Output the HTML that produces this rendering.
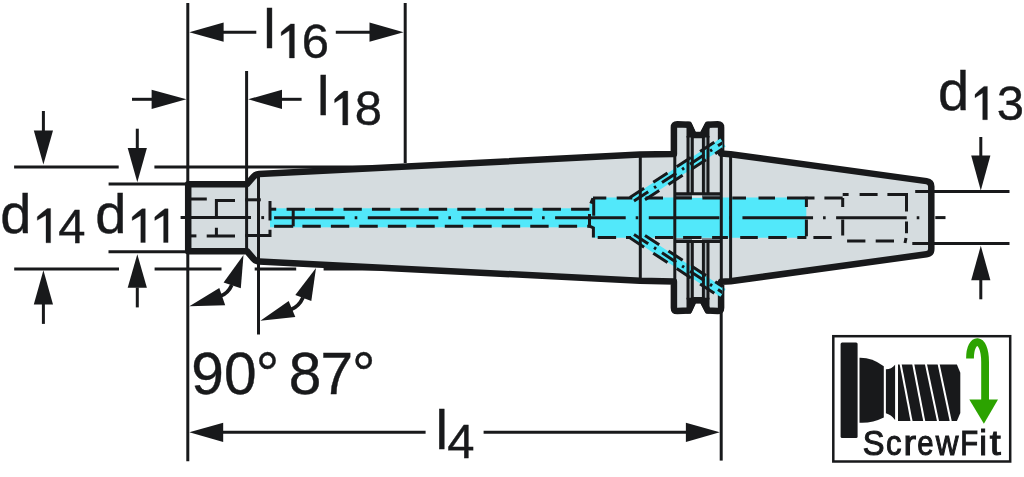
<!DOCTYPE html>
<html><head><meta charset="utf-8"><style>
html,body{margin:0;padding:0;background:#fff;}
body{width:1024px;height:477px;overflow:hidden;font-family:"Liberation Sans",sans-serif;}
svg{display:block;will-change:transform;}
</style></head><body>
<svg width="1024" height="477" viewBox="0 0 1024 477" stroke-linecap="butt">
<path d="M188.2,217.7 L188.2,184.2 L247,184.2 L253.6,176.6 Q255.6,174.2 259,174.0 L640,154.60 L673.9,153.9 L673.9,127.6 Q673.9,124.3 677.2,124.3 L688.97,124.8 L693.67,135.1 L702.43,135.1 L707.73,124.8 L717.8,124.3 Q721.1,124.3 721.1,127.6 L721.1,153.6 L730.5,154.2 L926.5,181.11 Q931.3,181.71 931.3,186.5 L931.3,217.7 L931.3,248.90 Q931.3,253.69 926.5,254.29 L730.5,281.20 L721.1,281.80 L721.1,307.80 Q721.1,311.10 717.8,311.10 L707.73,310.60 L702.43,300.30 L693.67,300.30 L688.97,310.60 L677.2,311.10 Q673.9,311.10 673.9,307.80 L673.9,281.50 L640,280.80 L259,261.40 Q255.6,261.20 253.6,258.80 L247,251.20 L188.2,251.20 Z" fill="#d5dcdf" stroke="none"/>
<rect x="270" y="208.3" width="320" height="19" fill="#52e8fa"/>
<path d="M592.5,197.6 L806.3,197.6 L806.3,237.7 L592.5,237.7 L592.5,228 L589.5,226 L589.5,205 Z" fill="#52e8fa"/>
<rect x="676" y="194.6" width="44" height="2.6" fill="#6f7a82"/>
<rect x="676" y="238.2" width="44" height="2.6" fill="#6f7a82"/>
<rect x="692" y="194.6" width="10" height="3.2" fill="#e2e8ea"/>
<rect x="692" y="237.6" width="10" height="3.2" fill="#e2e8ea"/>
<rect x="689.3" y="137" width="2.0" height="56.8" fill="#a9b2b6"/>
<rect x="689.3" y="241.6" width="2.0" height="56.8" fill="#a9b2b6"/>
<rect x="704.7" y="137" width="2.199999999999932" height="56.8" fill="#a9b2b6"/>
<rect x="704.7" y="241.6" width="2.199999999999932" height="56.8" fill="#a9b2b6"/>
<line x1="634.0" y1="201.00" x2="723.0" y2="142.51" stroke="#52e8fa" stroke-width="9.5"/>
<line x1="634.0" y1="234.40" x2="723.0" y2="292.89" stroke="#52e8fa" stroke-width="9.5"/>
<g stroke="#18191b" fill="none" stroke-width="3.0">
<line x1="629.89" y1="197.60" x2="723.00" y2="136.41" stroke-dasharray="17 11"/>
<line x1="640.00" y1="203.16" x2="723.00" y2="148.62" stroke-dasharray="17 11" stroke-dashoffset="-6"/>
<line x1="634.00" y1="201.00" x2="723.00" y2="142.51" stroke-dasharray="17 7 2.5 7"/>
<line x1="629.89" y1="237.80" x2="723.00" y2="298.99" stroke-dasharray="17 11"/>
<line x1="640.00" y1="232.24" x2="723.00" y2="286.78" stroke-dasharray="17 11" stroke-dashoffset="-6"/>
<line x1="634.00" y1="234.40" x2="723.00" y2="292.89" stroke-dasharray="17 7 2.5 7"/>
</g>
<polygon points="686.50,121.80 690.90,121.80 695.60,132.10 700.60,132.10 705.90,121.80 709.50,121.80 709.50,137.60 686.50,137.60" fill="#18191b" stroke="none" />
<polygon points="686.50,313.60 690.90,313.60 695.60,303.30 700.60,303.30 705.90,313.60 709.50,313.60 709.50,297.80 686.50,297.80" fill="#18191b" stroke="none" />
<g stroke="#18191b" fill="none" stroke-width="3.0">
<line x1="246.60" y1="71.00" x2="246.60" y2="251.50" stroke-width="3.0" />
<line x1="258.50" y1="175.00" x2="258.50" y2="334.50" stroke-width="3.0" />
<line x1="640.30" y1="155.60" x2="640.30" y2="279.80" stroke-width="3.0" />
<line x1="674.80" y1="150.00" x2="674.80" y2="285.00" stroke-width="3.0" />
<line x1="721.30" y1="150.00" x2="721.30" y2="285.00" stroke-width="3.0" />
<line x1="730.60" y1="154.00" x2="730.60" y2="281.00" stroke-width="3.0" />
<line x1="688.00" y1="136.00" x2="688.00" y2="194.50" stroke-width="3.0" />
<line x1="688.00" y1="240.90" x2="688.00" y2="299.40" stroke-width="3.0" />
<line x1="692.30" y1="136.00" x2="692.30" y2="194.50" stroke-width="3.0" />
<line x1="692.30" y1="240.90" x2="692.30" y2="299.40" stroke-width="3.0" />
<line x1="703.40" y1="136.00" x2="703.40" y2="194.50" stroke-width="3.0" />
<line x1="703.40" y1="240.90" x2="703.40" y2="299.40" stroke-width="3.0" />
<line x1="708.00" y1="136.00" x2="708.00" y2="194.50" stroke-width="3.0" />
<line x1="708.00" y1="240.90" x2="708.00" y2="299.40" stroke-width="3.0" />
<line x1="676.00" y1="193.80" x2="720.00" y2="193.80" stroke-width="3.0" />
<line x1="676.00" y1="241.60" x2="720.00" y2="241.60" stroke-width="3.0" />
</g>
<g stroke="#18191b" fill="none" stroke-width="3.0">
<line x1="191.00" y1="199.00" x2="206.80" y2="199.00" stroke-width="3.0" />
<path d="M235,200.4 L216.4,200.4 L216.4,217.5"/>
<line x1="191.00" y1="235.90" x2="196.40" y2="235.90" stroke-width="3.0" />
<path d="M206.7,235.9 L235,235.9 M216.4,235.9 L216.4,227.7"/>
<path d="M245.2,199.8 L260.8,199.8"/>
<path d="M245.2,235.5 L270,235.5 L270,229.7"/>
<line x1="270.00" y1="201.00" x2="270.00" y2="220.50" stroke-width="3.0" />
<line x1="270.00" y1="209.20" x2="276.20" y2="209.20" stroke-width="3.0" />
<line x1="286.6" y1="209.3" x2="590" y2="209.3" stroke-dasharray="18.3 10.15"/>
<line x1="274.1" y1="226.3" x2="293.2" y2="226.3"/>
<line x1="293.2" y1="209.3" x2="293.2" y2="226.3"/>
<line x1="302.4" y1="226.3" x2="590" y2="226.3" stroke-dasharray="18.4 10.08"/>
<path d="M593,197.9 L606.3,197.9 M616.7,197.9 L632.3,197.9 M645.5,197.9 L663,197.9 M675.2,197.9 L691.9,197.9 M702.4,197.9 L720,197.9 M732.3,197.9 L746,197.9 M758.5,197.9 L775,197.9 M787,197.9 L814.5,197.9 M824.4,197.9 L842.7,197.9"/>
<path d="M597.7,237.5 L616.1,237.5 M626,237.5 L631,237.5 M655,237.5 L673.4,237.5 M683.1,237.5 L701.5,237.5 M712.1,237.5 L727.9,237.5 M740.2,237.5 L757.8,237.5 M768.3,237.5 L786.8,237.5 M797.3,237.5 L806.4,237.5 M813.4,237.5 L831.7,237.5"/>
<path d="M590.8,203.5 L592.9,198.2 M593.7,197.9 L593.7,215.8 M589.5,214 L589.5,226 L593.4,228 L593.4,237.5"/>
<path d="M806.4,196.7 L806.4,207 M806.4,219.4 L806.4,236.3"/>
<path d="M842.7,197.9 L842.7,207 M842.7,194.5 L848.6,194.5"/>
<path d="M859.6,194.5 L877.6,194.5 M887.4,194.5 L906.5,194.5 L906.5,211.4 M906.5,221.6 L906.5,233.3"/>
<path d="M842.7,219.4 L842.7,235.5 M847.1,241.1 L865.4,241.1 M875.7,241.1 L894,241.1 M906,238 L905,243"/>
</g>
<g stroke="#18191b" fill="none" stroke-width="3.0">
<line x1="180.60" y1="217.60" x2="251.00" y2="217.60" stroke-width="3.0" />
<line x1="261.3" y1="217.6" x2="264.1" y2="217.6"/>
<line x1="274.1" y1="217.7" x2="920" y2="217.7" stroke-dasharray="70.6 10.0 2.6 10.47"/>
<line x1="935.3" y1="217.6" x2="945.5" y2="217.6"/>
</g>
<path d="M188.2,217.7 L188.2,184.2 L247,184.2 L253.6,176.6 Q255.6,174.2 259,174.0 L640,154.60 L673.9,153.9 L673.9,127.6 Q673.9,124.3 677.2,124.3 L688.97,124.8 L693.67,135.1 L702.43,135.1 L707.73,124.8 L717.8,124.3 Q721.1,124.3 721.1,127.6 L721.1,153.6 L730.5,154.2 L926.5,181.11 Q931.3,181.71 931.3,186.5 L931.3,217.7 L931.3,248.90 Q931.3,253.69 926.5,254.29 L730.5,281.20 L721.1,281.80 L721.1,307.80 Q721.1,311.10 717.8,311.10 L707.73,310.60 L702.43,300.30 L693.67,300.30 L688.97,310.60 L677.2,311.10 Q673.9,311.10 673.9,307.80 L673.9,281.50 L640,280.80 L259,261.40 Q255.6,261.20 253.6,258.80 L247,251.20 L188.2,251.20 Z" fill="none" stroke="#18191b" stroke-width="6.5" stroke-linejoin="round"/>
<defs><clipPath id="cend"><rect x="717" y="100" width="5.5" height="240"/></clipPath></defs>
<g clip-path="url(#cend)">
<line x1="634.0" y1="201.00" x2="723.0" y2="142.51" stroke="#52e8fa" stroke-width="9.5"/>
<line x1="634.0" y1="234.40" x2="723.0" y2="292.89" stroke="#52e8fa" stroke-width="9.5"/>
<g stroke="#18191b" fill="none" stroke-width="3.0">
<line x1="629.89" y1="197.60" x2="723.00" y2="136.41" stroke-dasharray="17 11"/>
<line x1="640.00" y1="203.16" x2="723.00" y2="148.62" stroke-dasharray="17 11" stroke-dashoffset="-6"/>
<line x1="634.00" y1="201.00" x2="723.00" y2="142.51" stroke-dasharray="17 7 2.5 7"/>
<line x1="629.89" y1="237.80" x2="723.00" y2="298.99" stroke-dasharray="17 11"/>
<line x1="640.00" y1="232.24" x2="723.00" y2="286.78" stroke-dasharray="17 11" stroke-dashoffset="-6"/>
<line x1="634.00" y1="234.40" x2="723.00" y2="292.89" stroke-dasharray="17 7 2.5 7"/>
</g>
</g>
<g stroke="#18191b" fill="none" stroke-width="3.0">
<line x1="187.80" y1="3.00" x2="187.80" y2="461.30" stroke-width="3.0" />
<line x1="405.20" y1="3.00" x2="405.20" y2="163.00" stroke-width="3.0" />
<line x1="223.00" y1="32.20" x2="256.30" y2="32.20" stroke-width="3.0" />
<line x1="335.80" y1="32.20" x2="370.00" y2="32.20" stroke-width="3.0" />
<line x1="132.00" y1="99.30" x2="152.00" y2="99.30" stroke-width="3.0" />
<line x1="281.50" y1="99.30" x2="301.60" y2="99.30" stroke-width="3.0" />
<line x1="14.10" y1="167.00" x2="118.70" y2="167.00" stroke-width="3.0" />
<line x1="154.40" y1="167.00" x2="395.00" y2="167.00" stroke-width="3.0" />
<line x1="14.20" y1="268.90" x2="119.00" y2="268.90" stroke-width="3.0" />
<line x1="154.60" y1="268.90" x2="221.50" y2="268.90" stroke-width="3.0" />
<line x1="254.70" y1="268.90" x2="296.20" y2="268.90" stroke-width="3.0" />
<line x1="323.60" y1="268.90" x2="420.00" y2="268.90" stroke-width="3.0" />
<line x1="43.40" y1="111.00" x2="43.40" y2="131.00" stroke-width="3.0" />
<line x1="43.40" y1="304.00" x2="43.40" y2="323.90" stroke-width="3.0" />
<line x1="108.60" y1="184.00" x2="188.00" y2="184.00" stroke-width="3.0" />
<line x1="108.50" y1="251.70" x2="188.00" y2="251.70" stroke-width="3.0" />
<line x1="137.30" y1="128.70" x2="137.30" y2="148.50" stroke-width="3.0" />
<line x1="137.30" y1="287.50" x2="137.30" y2="307.40" stroke-width="3.0" />
<line x1="915.20" y1="191.60" x2="1009.50" y2="191.60" stroke-width="3.0" />
<line x1="912.30" y1="243.60" x2="1009.50" y2="243.60" stroke-width="3.0" />
<line x1="980.80" y1="137.00" x2="980.80" y2="156.00" stroke-width="3.0" />
<line x1="980.80" y1="280.00" x2="980.80" y2="299.30" stroke-width="3.0" />
<line x1="222.00" y1="432.30" x2="425.60" y2="432.30" stroke-width="3.0" />
<line x1="483.60" y1="432.30" x2="687.00" y2="432.30" stroke-width="3.0" />
<line x1="721.20" y1="312.00" x2="721.20" y2="460.60" stroke-width="3.0" />
</g>
<polygon points="189.30,32.20 223.60,22.60 223.60,41.80" fill="#18191b" stroke="none" />
<polygon points="403.60,32.20 369.50,22.60 369.50,41.80" fill="#18191b" stroke="none" />
<polygon points="186.40,99.30 151.60,89.70 151.60,108.90" fill="#18191b" stroke="none" />
<polygon points="248.20,99.30 282.00,89.70 282.00,108.90" fill="#18191b" stroke="none" />
<polygon points="43.40,164.50 33.80,130.40 53.00,130.40" fill="#18191b" stroke="none" />
<polygon points="43.40,270.20 33.80,304.40 53.00,304.40" fill="#18191b" stroke="none" />
<polygon points="137.30,182.30 127.70,148.00 146.90,148.00" fill="#18191b" stroke="none" />
<polygon points="137.30,254.20 127.70,287.80 146.90,287.80" fill="#18191b" stroke="none" />
<polygon points="980.80,190.50 971.20,155.50 990.40,155.50" fill="#18191b" stroke="none" />
<polygon points="980.80,245.80 971.20,280.20 990.40,280.20" fill="#18191b" stroke="none" />
<polygon points="189.30,432.30 223.20,422.70 223.20,441.90" fill="#18191b" stroke="none" />
<polygon points="719.80,432.30 685.90,422.70 685.90,441.90" fill="#18191b" stroke="none" />
<polygon points="189.40,306.30 219.30,288.00 225.20,305.30" fill="#18191b" stroke="none" />
<polygon points="243.50,255.00 223.60,282.60 240.80,288.30" fill="#18191b" stroke="none" />
<path d="M220.5,296 Q228,293.5 231.8,285" stroke="#18191b" stroke-width="3.8" fill="none"/>
<polygon points="260.40,320.80 288.70,301.00 295.30,317.00" fill="#18191b" stroke="none" />
<polygon points="316.00,268.00 295.30,294.90 311.30,301.00" fill="#18191b" stroke="none" />
<path d="M291,309.5 Q299,306.5 303,297.5" stroke="#18191b" stroke-width="3.8" fill="none"/>
<text x="263.23" y="47.70" font-size="56" font-family="Liberation Sans, sans-serif" fill="#18191b" stroke="#18191b" stroke-width="0.4">l</text>
<path d="M294.40,58.00 L294.40,23.90 L290.70,23.90 Q286.20,27.11 281.20,32.12 L281.20,35.63 L289.40,30.62 L289.40,58.00 Z" fill="#18191b" stroke="#18191b" stroke-width="0.3"/>
<text x="301.81" y="58.30" font-size="49" font-family="Liberation Sans, sans-serif" fill="#18191b" stroke="#18191b" stroke-width="0.4">6</text>
<text x="316.93" y="115.20" font-size="56" font-family="Liberation Sans, sans-serif" fill="#18191b" stroke="#18191b" stroke-width="0.4">l</text>
<path d="M347.80,125.00 L347.80,91.10 L344.00,91.10 Q339.50,94.29 334.60,99.28 L334.60,102.77 L342.70,97.78 L342.70,125.00 Z" fill="#18191b" stroke="#18191b" stroke-width="0.3"/>
<text x="354.87" y="125.20" font-size="49" font-family="Liberation Sans, sans-serif" fill="#18191b" stroke="#18191b" stroke-width="0.4">8</text>
<text x="0.25" y="232.60" font-size="56" font-family="Liberation Sans, sans-serif" fill="#18191b" stroke="#18191b" stroke-width="0.4">d</text>
<path d="M50.60,242.80 L50.60,208.60 L47.30,208.60 Q42.80,211.82 37.30,216.85 L37.30,220.37 L46.00,215.34 L46.00,242.80 Z" fill="#18191b" stroke="#18191b" stroke-width="0.3"/>
<text x="58.28" y="242.80" font-size="49" font-family="Liberation Sans, sans-serif" fill="#18191b" stroke="#18191b" stroke-width="0.4">4</text>
<text x="95.15" y="232.80" font-size="56" font-family="Liberation Sans, sans-serif" fill="#18191b" stroke="#18191b" stroke-width="0.4">d</text>
<path d="M145.30,242.50 L145.30,208.80 L142.10,208.80 Q137.60,211.97 132.20,216.93 L132.20,220.40 L140.80,215.44 L140.80,242.50 Z" fill="#18191b" stroke="#18191b" stroke-width="0.3"/>
<path d="M168.10,242.50 L168.10,208.80 L164.90,208.80 Q160.40,211.97 154.80,216.93 L154.80,220.40 L163.60,215.44 L163.60,242.50 Z" fill="#18191b" stroke="#18191b" stroke-width="0.3"/>
<text x="937.95" y="109.80" font-size="56" font-family="Liberation Sans, sans-serif" fill="#18191b" stroke="#18191b" stroke-width="0.4">d</text>
<path d="M987.40,119.70 L987.40,86.40 L984.00,86.40 Q979.50,89.53 975.00,94.43 L975.00,97.86 L982.70,92.96 L982.70,119.70 Z" fill="#18191b" stroke="#18191b" stroke-width="0.3"/>
<text x="996.63" y="119.80" font-size="49" font-family="Liberation Sans, sans-serif" fill="#18191b" stroke="#18191b" stroke-width="0.4">3</text>
<text x="435.53" y="448.80" font-size="56" font-family="Liberation Sans, sans-serif" fill="#18191b" stroke="#18191b" stroke-width="0.4">l</text>
<text x="447.28" y="457.90" font-size="49" font-family="Liberation Sans, sans-serif" fill="#18191b" stroke="#18191b" stroke-width="0.4">4</text>
<text x="191.25 224.0 255.7" y="394.0" font-size="58.6" font-family="Liberation Sans, sans-serif" fill="#18191b" stroke="#18191b" stroke-width="0.4">90°</text>
<text x="288.75 320.60 352.11" y="394.0" font-size="58.6" font-family="Liberation Sans, sans-serif" fill="#18191b" stroke="#18191b" stroke-width="0.4">87°</text>
<rect x="833.3" y="336.2" width="176.9" height="125.3" fill="#fff" stroke="#18191b" stroke-width="2.5"/>
<rect x="840.6" y="342.5" width="17" height="95.4" rx="1.5" fill="#18191b"/>
<path d="M859.5,357.8 Q872,357.5 883.8,366.2 L883.8,417.6 Q872,423.5 859.5,422.8 Z" fill="#18191b"/>
<path d="M885.9,369.3 Q891,369.5 895.1,364.8 L895.1,420 Q891,414.5 885.9,413.2 Z" fill="#18191b"/>
<path d="M898,364.6 L956.9,364.6 L960.3,372.7 L960.3,413 L956.9,421.1 L898,421.1 Z" fill="#18191b"/>
<g stroke="#fff" stroke-width="2">
<line x1="900.4" y1="363" x2="911.9" y2="423"/>
<line x1="913.0" y1="363" x2="924.6" y2="423"/>
<line x1="925.7" y1="363" x2="938.4" y2="423"/>
<line x1="938.4" y1="363" x2="951.1" y2="423"/>
</g>
<path d="M970,358.5 C970,336.5 985.1,335.5 985.1,362 L985.1,400.5" stroke="#2ca300" stroke-width="7.8" fill="none"/>
<polygon points="969.3,399.5 998,399.5 983.9,423.8" fill="#2ca300"/>
<text transform="translate(873.60,455) scale(0.947,1)" x="-11.50" y="0" font-size="34.5" font-family="Liberation Sans, sans-serif" fill="#18191b" stroke="#18191b" stroke-width="1.05">S</text>
<text transform="translate(893.95,455) scale(0.898,1)" x="-8.90" y="0" font-size="34.5" font-family="Liberation Sans, sans-serif" fill="#18191b" stroke="#18191b" stroke-width="1.05">c</text>
<text transform="translate(910.80,455) scale(1.096,1)" x="-6.60" y="0" font-size="34.5" font-family="Liberation Sans, sans-serif" fill="#18191b" stroke="#18191b" stroke-width="1.05">r</text>
<text transform="translate(925.30,455) scale(0.850,1)" x="-9.56" y="0" font-size="34.5" font-family="Liberation Sans, sans-serif" fill="#18191b" stroke="#18191b" stroke-width="1.05">e</text>
<text transform="translate(947.10,455) scale(0.912,1)" x="-12.47" y="0" font-size="34.5" font-family="Liberation Sans, sans-serif" fill="#18191b" stroke="#18191b" stroke-width="1.05">w</text>
<text transform="translate(969.70,455) scale(0.850,1)" x="-11.26" y="0" font-size="34.5" font-family="Liberation Sans, sans-serif" fill="#18191b" stroke="#18191b" stroke-width="1.05">F</text>
<text transform="translate(983.15,455) scale(1.004,1)" x="-3.82" y="0" font-size="34.5" font-family="Liberation Sans, sans-serif" fill="#18191b" stroke="#18191b" stroke-width="1.05">i</text>
<text transform="translate(995.50,455) scale(1.150,1)" x="-4.93" y="0" font-size="34.5" font-family="Liberation Sans, sans-serif" fill="#18191b" stroke="#18191b" stroke-width="1.05">t</text>
</svg>
</body></html>
